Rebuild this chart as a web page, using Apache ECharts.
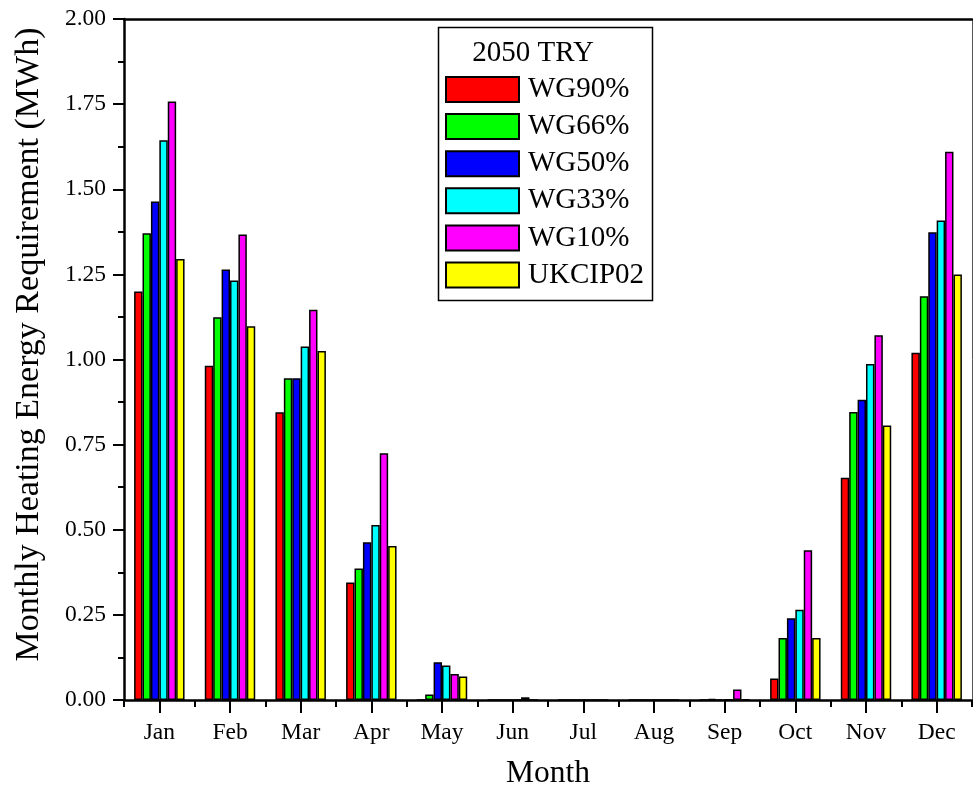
<!DOCTYPE html>
<html>
<head>
<meta charset="utf-8">
<script src="https://cdn.jsdelivr.net/npm/echarts@6/dist/echarts.min.js"></script>
<style>html,body{margin:0;padding:0;background:#fff;}#c{width:973px;height:792px;}</style>
</head>
<body>
<div id="c"></div>
<script>
const months = ['Jan','Feb','Mar','Apr','May','Jun','Jul','Aug','Sep','Oct','Nov','Dec'];
const seriesNames = ['WG90%','WG66%','WG50%','WG33%','WG10%','UKCIP02'];
const wg90  = [1.200, 0.982, 0.845, 0.345, 0.000, 0.000, 0, 0, 0.000, 0.063, 0.653, 1.020];
const wg66  = [1.371, 1.124, 0.945, 0.386, 0.016, 0.000, 0, 0, 0.003, 0.182, 0.846, 1.186];
const wg50  = [1.464, 1.264, 0.945, 0.463, 0.111, 0.000, 0, 0, 0.000, 0.240, 0.882, 1.374];
const wg33  = [1.644, 1.232, 1.038, 0.514, 0.101, 0.000, 0, 0, 0.001, 0.265, 0.987, 1.408];
const wg10  = [1.758, 1.367, 1.146, 0.725, 0.076, 0.008, 0, 0, 0.031, 0.440, 1.071, 1.610];
const ukcip = [1.295, 1.098, 1.025, 0.452, 0.069, 0.000, 0, 0, 0.002, 0.182, 0.806, 1.250];
const yTicks = [0, 0.25, 0.5, 0.75, 1.0, 1.25, 1.5, 1.75, 2.0];
const legendTitle = '2050 TRY';

const values = [wg90, wg66, wg50, wg33, wg10, ukcip];
const colors = ['#FF0000','#00FF00','#0000FF','#00FFFF','#FF00FF','#FFFF00'];
const FONT = 'Liberation Serif';

const chart = echarts.init(document.getElementById('c'), null, {renderer:'canvas'});
const series = seriesNames.map((n, i) => ({
  name: n, type: 'bar', xAxisIndex: 0, yAxisIndex: 0,
  data: values[i],
  barGap: '0%', barCategoryGap: '28.6%',
  itemStyle: {color: colors[i], borderColor: '#000', borderWidth: 1.5},
  emphasis: {disabled: true}
}));

chart.setOption({
  animation: false,
  backgroundColor: '#fff',
  textStyle: {fontFamily: FONT},
  grid: {left: 124, right: 1, top: 19, bottom: 92, containLabel: false, outerBoundsMode: 'none'},
  xAxis: [
    {
      type: 'category', data: months, position: 'bottom',
      name: 'Month', nameLocation: 'middle', nameGap: 58,
      nameTextStyle: {fontFamily: FONT, fontSize: 31.5, color: '#000'},
      axisLine: {show: true, lineStyle: {color: '#000', width: 2.5}},
      axisTick: {show: true, alignWithLabel: true, length: 13, lineStyle: {color: '#000', width: 2}},
      axisLabel: {fontFamily: FONT, fontSize: 23.5, color: '#000', margin: 21},
      splitLine: {show: false}
    },
    {
      type: 'category', data: months, position: 'bottom',
      axisLine: {show: false},
      axisTick: {show: true, length: 7, lineStyle: {color: '#000', width: 2}},
      axisLabel: {show: false},
      splitLine: {show: false}
    },
    {
      type: 'category', data: months, position: 'top',
      axisLine: {show: true, lineStyle: {color: '#000', width: 2.5}},
      axisTick: {show: false}, axisLabel: {show: false}, splitLine: {show: false}
    }
  ],
  yAxis: [
    {
      type: 'value', min: 0, max: 2, interval: 0.25, position: 'left',
      name: 'Monthly Heating Energy Requirement (MWh)', nameLocation: 'middle', nameGap: 78,
      nameTextStyle: {fontFamily: FONT, fontSize: 34, color: '#000', padding: [0, 0, 0, 30]},
      axisLine: {show: true, lineStyle: {color: '#000', width: 2.5}},
      axisTick: {show: true, length: 11, lineStyle: {color: '#000', width: 2}},
      minorTick: {show: true, splitNumber: 2, length: 6, lineStyle: {color: '#000', width: 2}},
      axisLabel: {fontFamily: FONT, fontSize: 23.5, color: '#000', margin: 18,
        formatter: v => yTicks.indexOf(v) >= 0 ? v.toFixed(2) : ''},
      splitLine: {show: false}
    },
    {
      type: 'value', min: 0, max: 2, interval: 0.25, position: 'right',
      axisLine: {show: true, lineStyle: {color: '#555', width: 1}},
      axisTick: {show: false}, axisLabel: {show: false}, splitLine: {show: false}
    }
  ],
  legend: {
    data: seriesNames, orient: 'vertical', left: 445, top: 75, padding: 0,
    itemWidth: 73, itemHeight: 25, itemGap: 8.1, icon: 'rect',
    textStyle: {fontFamily: FONT, fontSize: 29, color: '#000', padding: [0,0,0,4]},
    selectedMode: false
  },
  graphic: [
    {type: 'rect', shape: {x: 438.5, y: 27.5, width: 214, height: 273},
     style: {fill: 'none', stroke: '#000', lineWidth: 1.5}, z: 100},
    {type: 'text', x: 533, y: 53, style: {text: legendTitle, font: '29px "Liberation Serif"', fill: '#000',
     textAlign: 'center', textVerticalAlign: 'middle'}, z: 100}
  ],
  series: series
});
</script>
</body>
</html>
